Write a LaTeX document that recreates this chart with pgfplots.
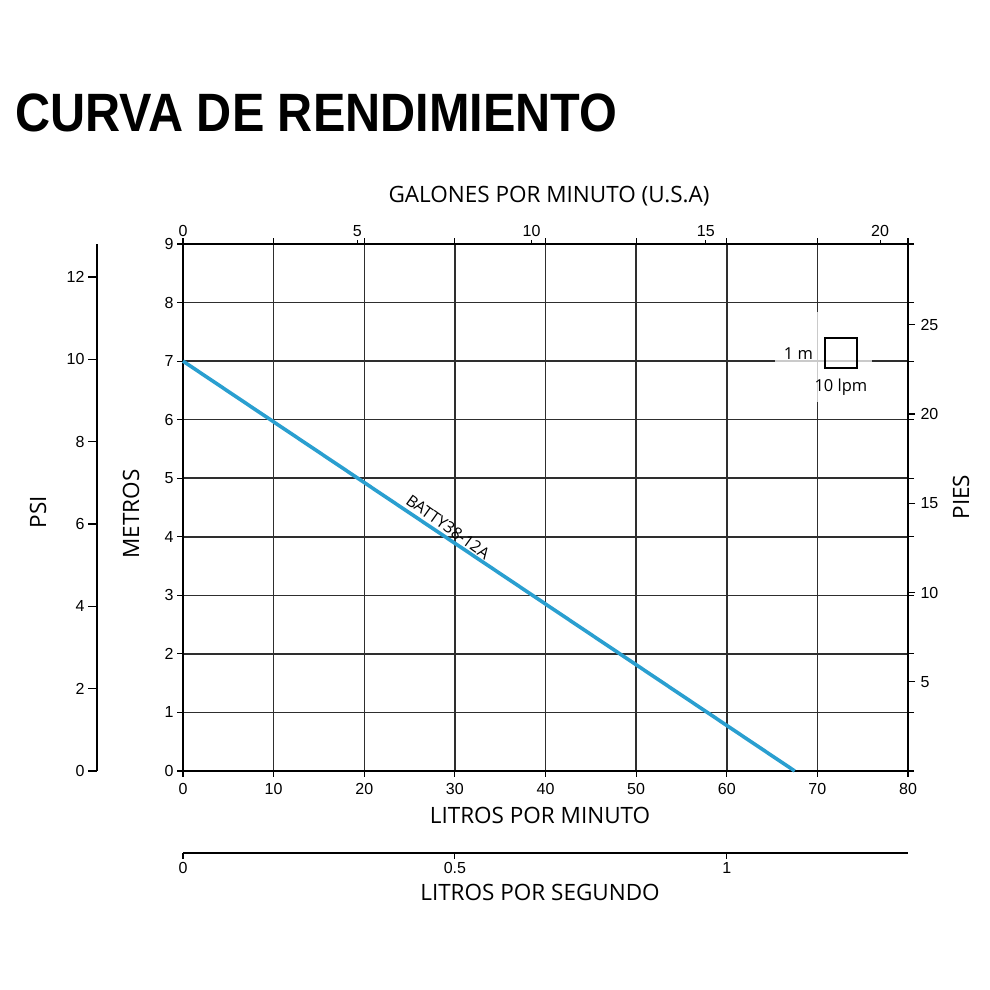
\documentclass[border=0pt]{standalone}
\usepackage{pgfplots}
\pgfplotsset{compat=1.18}
\usepackage{fontspec}
\setmainfont{Liberation Sans}
\newfontfamily\myr{Open Sans}
\definecolor{curve}{HTML}{2A9FD0}
\definecolor{gridc}{HTML}{2E2E2E}

\begin{document}
\begin{tikzpicture}[x=1pt,y=1pt]
\path[use as bounding box, fill=white] (0,0) rectangle (990,990);
\pgfplotsset{
  every axis/.append style={
    scale only axis, width=725pt, height=527pt,
    at={(183pt,219pt)}, anchor=south west,
    tick align=outside, major tick length=6pt,
    tick style={black, line width=1.2pt},
    axis line style={black, line width=1.6pt},
    ticklabel style={font=\fontsize{16}{18}\selectfont},
    /pgf/number format/assume math mode=true,
    clip=false,
  }
}
% PSI (left, separate line)
\begin{axis}[at={(97pt,219pt)}, width=1pt,
    xmin=0, xmax=1, ymin=0, ymax=12.8,
    hide x axis, axis y line*=left, major tick length=9pt,
    ytick={0,2,...,12}]
\end{axis}
% main axis: metros vs litros por minuto
\begin{axis}[xmin=0, xmax=80, ymin=0, ymax=9,
    xtick distance=10, ytick distance=1,
    xticklabel style={yshift=-3pt},
    grid=major, major grid style={gridc, line width=1.5pt}]
\addplot[curve, line width=3.6pt] coordinates {(0,7) (67.5,0)};
\node[font=\myr\fontsize{16}{18}\selectfont, rotate=-35.5, anchor=south,
      inner sep=4pt]
  at (axis cs:28.6,4.03) {BATTY38-12A};
% scale key
\fill[white, opacity=0.75] (axis cs:65.3,6.3) rectangle (axis cs:76,7.84);
\draw[black, line width=2.4pt] (axis cs:70.84,6.88) rectangle (axis cs:74.37,7.39);
\node[font=\myr\fontsize{16.5}{18}\selectfont, anchor=east]
  at (axis cs:69.9,7.13) {1 m};
\node[font=\myr\fontsize{16.5}{18}\selectfont]
  at (axis cs:72.6,6.55) {10 lpm};
\end{axis}
% galones por minuto (top)
\begin{axis}[xmin=0, xmax=20.8, ymin=0, ymax=9,
    hide y axis, axis x line*=top, major tick length=4pt,
    xtick={0,5,...,20}]
\end{axis}
% pies (right)
\begin{axis}[xmin=0, xmax=80, ymin=0, ymax=29.53,
    hide x axis, axis y line*=right, major tick length=7pt,
    axis line style={black, line width=2.4pt},
    ytick={5,10,...,25}, yticklabel style={xshift=2pt}]
\end{axis}
% litros por segundo (bottom)
\begin{axis}[at={(183pt,137pt)}, height=1pt,
    xmin=0, xmax=1.3333, ymin=0, ymax=1,
    hide y axis, axis x line*=bottom,
    axis line style={black, line width=1.3pt},
    xtick={0,0.5,1}]
\end{axis}
% titles
\node[anchor=base west, font=\fontsize{54}{60}\bfseries\selectfont, xscale=0.9]
  at (12,858) {CURVA DE RENDIMIENTO};
\node[font=\myr\fontsize{22.5}{26}\selectfont] at (549,794) {GALONES POR MINUTO (U.S.A)};
\node[font=\myr\fontsize{22.5}{26}\selectfont] at (540,175) {LITROS POR MINUTO};
\node[font=\myr\fontsize{22.5}{26}\selectfont] at (540,98) {LITROS POR SEGUNDO};
\node[font=\myr\fontsize{22.5}{26}\selectfont, rotate=90] at (131,476) {METROS};
\node[font=\myr\fontsize{22.5}{26}\selectfont, rotate=90] at (38,478) {PSI};
\node[font=\myr\fontsize{22.5}{26}\selectfont, rotate=90] at (961,493) {PIES};
\end{tikzpicture}
\end{document}
